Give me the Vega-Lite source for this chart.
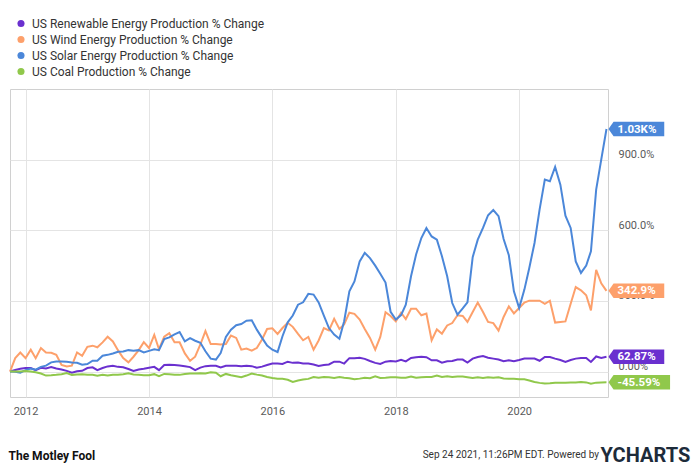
{
  "$schema": "https://vega.github.io/schema/vega-lite/v6.json",
  "width": 598,
  "height": 308,
  "autosize": {"type": "none"},
  "padding": {"left": 10, "top": 89, "right": 92, "bottom": 72},
  "background": "white",
  "title": {
    "text": "Sep 24 2021, 11:26PM EDT.  Powered by",
    "orient": "bottom", "anchor": "end", "frame": "group", "dx": -9, "offset": -15,
    "fontSize": 10, "fontWeight": "normal", "color": "#333", "font": "Roboto"
  },
  "data": {"values": [
    {"date": "2011-10-01", "renewable": 0, "wind": 0, "solar": 0, "coal": 0},
    {"date": "2011-11-01", "renewable": 7, "wind": 57, "solar": -1, "coal": 0},
    {"date": "2011-12-01", "renewable": 12, "wind": 81, "solar": -5, "coal": 0},
    {"date": "2012-01-01", "renewable": 15, "wind": 57, "solar": 6, "coal": 2},
    {"date": "2012-02-01", "renewable": 15, "wind": 93, "solar": 13, "coal": 0},
    {"date": "2012-03-01", "renewable": 6, "wind": 57, "solar": 8, "coal": -3},
    {"date": "2012-04-01", "renewable": 16, "wind": 100, "solar": 20, "coal": -8},
    {"date": "2012-05-01", "renewable": 13, "wind": 81, "solar": 25, "coal": -17},
    {"date": "2012-06-01", "renewable": 19, "wind": 80, "solar": 39, "coal": -16},
    {"date": "2012-07-01", "renewable": 13, "wind": 71, "solar": 43, "coal": -14},
    {"date": "2012-08-01", "renewable": 9, "wind": 28, "solar": 43, "coal": -11},
    {"date": "2012-09-01", "renewable": 3, "wind": 22, "solar": 42, "coal": -6},
    {"date": "2012-10-01", "renewable": -5, "wind": 25, "solar": 39, "coal": -14},
    {"date": "2012-11-01", "renewable": 1, "wind": 81, "solar": 37, "coal": -12},
    {"date": "2012-12-01", "renewable": 3, "wind": 67, "solar": 29, "coal": -11},
    {"date": "2013-01-01", "renewable": 15, "wind": 105, "solar": 32, "coal": -14},
    {"date": "2013-02-01", "renewable": 18, "wind": 110, "solar": 46, "coal": -14},
    {"date": "2013-03-01", "renewable": 6, "wind": 103, "solar": 46, "coal": -18},
    {"date": "2013-04-01", "renewable": 15, "wind": 124, "solar": 67, "coal": -14},
    {"date": "2013-05-01", "renewable": 22, "wind": 148, "solar": 71, "coal": -17},
    {"date": "2013-06-01", "renewable": 25, "wind": 128, "solar": 77, "coal": -14},
    {"date": "2013-07-01", "renewable": 20, "wind": 91, "solar": 84, "coal": -14},
    {"date": "2013-08-01", "renewable": 18, "wind": 57, "solar": 85, "coal": -11},
    {"date": "2013-09-01", "renewable": 11, "wind": 39, "solar": 91, "coal": -7},
    {"date": "2013-10-01", "renewable": 3, "wind": 63, "solar": 88, "coal": -12},
    {"date": "2013-11-01", "renewable": 9, "wind": 91, "solar": 91, "coal": -14},
    {"date": "2013-12-01", "renewable": 12, "wind": 125, "solar": 81, "coal": -16},
    {"date": "2014-01-01", "renewable": 16, "wind": 100, "solar": 88, "coal": -16},
    {"date": "2014-02-01", "renewable": 20, "wind": 156, "solar": 95, "coal": -11},
    {"date": "2014-03-01", "renewable": 6, "wind": 95, "solar": 91, "coal": -20},
    {"date": "2014-04-01", "renewable": 28, "wind": 148, "solar": 138, "coal": -10},
    {"date": "2014-05-01", "renewable": 29, "wind": 163, "solar": 145, "coal": -11},
    {"date": "2014-06-01", "renewable": 28, "wind": 124, "solar": 158, "coal": -14},
    {"date": "2014-07-01", "renewable": 26, "wind": 124, "solar": 168, "coal": -14},
    {"date": "2014-08-01", "renewable": 23, "wind": 77, "solar": 128, "coal": -10},
    {"date": "2014-09-01", "renewable": 19, "wind": 46, "solar": 142, "coal": -8},
    {"date": "2014-10-01", "renewable": 6, "wind": 63, "solar": 131, "coal": -8},
    {"date": "2014-11-01", "renewable": 17, "wind": 115, "solar": 122, "coal": -7},
    {"date": "2014-12-01", "renewable": 23, "wind": 172, "solar": 86, "coal": -8},
    {"date": "2015-01-01", "renewable": 25, "wind": 117, "solar": 55, "coal": -3},
    {"date": "2015-02-01", "renewable": 25, "wind": 117, "solar": 51, "coal": -5},
    {"date": "2015-03-01", "renewable": 18, "wind": 115, "solar": 79, "coal": -20},
    {"date": "2015-04-01", "renewable": 25, "wind": 117, "solar": 147, "coal": -10},
    {"date": "2015-05-01", "renewable": 25, "wind": 153, "solar": 178, "coal": -16},
    {"date": "2015-06-01", "renewable": 25, "wind": 143, "solar": 197, "coal": -20},
    {"date": "2015-07-01", "renewable": 23, "wind": 93, "solar": 202, "coal": -24},
    {"date": "2015-08-01", "renewable": 25, "wind": 98, "solar": 216, "coal": -17},
    {"date": "2015-09-01", "renewable": 23, "wind": 89, "solar": 218, "coal": -8},
    {"date": "2015-10-01", "renewable": 16, "wind": 100, "solar": 178, "coal": -13},
    {"date": "2015-11-01", "renewable": 21, "wind": 136, "solar": 143, "coal": -17},
    {"date": "2015-12-01", "renewable": 28, "wind": 181, "solar": 110, "coal": -23},
    {"date": "2016-01-01", "renewable": 34, "wind": 184, "solar": 93, "coal": -27},
    {"date": "2016-02-01", "renewable": 34, "wind": 160, "solar": 83, "coal": -30},
    {"date": "2016-03-01", "renewable": 32, "wind": 185, "solar": 150, "coal": -31},
    {"date": "2016-04-01", "renewable": 42, "wind": 207, "solar": 209, "coal": -35},
    {"date": "2016-05-01", "renewable": 37, "wind": 190, "solar": 238, "coal": -44},
    {"date": "2016-06-01", "renewable": 38, "wind": 160, "solar": 284, "coal": -38},
    {"date": "2016-07-01", "renewable": 34, "wind": 133, "solar": 294, "coal": -34},
    {"date": "2016-08-01", "renewable": 34, "wind": 147, "solar": 330, "coal": -31},
    {"date": "2016-09-01", "renewable": 30, "wind": 93, "solar": 327, "coal": -23},
    {"date": "2016-10-01", "renewable": 24, "wind": 132, "solar": 294, "coal": -26},
    {"date": "2016-11-01", "renewable": 28, "wind": 185, "solar": 238, "coal": -23},
    {"date": "2016-12-01", "renewable": 30, "wind": 175, "solar": 185, "coal": -24},
    {"date": "2017-01-01", "renewable": 42, "wind": 224, "solar": 157, "coal": -27},
    {"date": "2017-02-01", "renewable": 42, "wind": 181, "solar": 139, "coal": -23},
    {"date": "2017-03-01", "renewable": 34, "wind": 200, "solar": 214, "coal": -26},
    {"date": "2017-04-01", "renewable": 57, "wind": 250, "solar": 341, "coal": -28},
    {"date": "2017-05-01", "renewable": 57, "wind": 245, "solar": 383, "coal": -33},
    {"date": "2017-06-01", "renewable": 59, "wind": 221, "solar": 468, "coal": -30},
    {"date": "2017-07-01", "renewable": 54, "wind": 181, "solar": 504, "coal": -26},
    {"date": "2017-08-01", "renewable": 45, "wind": 143, "solar": 482, "coal": -28},
    {"date": "2017-09-01", "renewable": 37, "wind": 93, "solar": 450, "coal": -20},
    {"date": "2017-10-01", "renewable": 32, "wind": 147, "solar": 415, "coal": -27},
    {"date": "2017-11-01", "renewable": 42, "wind": 252, "solar": 378, "coal": -26},
    {"date": "2017-12-01", "renewable": 45, "wind": 236, "solar": 254, "coal": -24},
    {"date": "2018-01-01", "renewable": 43, "wind": 213, "solar": 221, "coal": -24},
    {"date": "2018-02-01", "renewable": 50, "wind": 250, "solar": 240, "coal": -26},
    {"date": "2018-03-01", "renewable": 43, "wind": 223, "solar": 284, "coal": -26},
    {"date": "2018-04-01", "renewable": 58, "wind": 267, "solar": 405, "coal": -21},
    {"date": "2018-05-01", "renewable": 61, "wind": 267, "solar": 497, "coal": -26},
    {"date": "2018-06-01", "renewable": 63, "wind": 239, "solar": 567, "coal": -24},
    {"date": "2018-07-01", "renewable": 61, "wind": 246, "solar": 610, "coal": -23},
    {"date": "2018-08-01", "renewable": 48, "wind": 133, "solar": 574, "coal": -23},
    {"date": "2018-09-01", "renewable": 48, "wind": 179, "solar": 560, "coal": -17},
    {"date": "2018-10-01", "renewable": 38, "wind": 161, "solar": 490, "coal": -23},
    {"date": "2018-11-01", "renewable": 44, "wind": 196, "solar": 405, "coal": -20},
    {"date": "2018-12-01", "renewable": 45, "wind": 206, "solar": 291, "coal": -23},
    {"date": "2019-01-01", "renewable": 51, "wind": 239, "solar": 242, "coal": -21},
    {"date": "2019-02-01", "renewable": 51, "wind": 236, "solar": 268, "coal": -21},
    {"date": "2019-03-01", "renewable": 38, "wind": 211, "solar": 294, "coal": -24},
    {"date": "2019-04-01", "renewable": 55, "wind": 253, "solar": 486, "coal": -27},
    {"date": "2019-05-01", "renewable": 62, "wind": 293, "solar": 560, "coal": -24},
    {"date": "2019-06-01", "renewable": 66, "wind": 253, "solar": 610, "coal": -27},
    {"date": "2019-07-01", "renewable": 59, "wind": 211, "solar": 664, "coal": -24},
    {"date": "2019-08-01", "renewable": 55, "wind": 206, "solar": 686, "coal": -26},
    {"date": "2019-09-01", "renewable": 51, "wind": 174, "solar": 660, "coal": -24},
    {"date": "2019-10-01", "renewable": 44, "wind": 232, "solar": 563, "coal": -29},
    {"date": "2019-11-01", "renewable": 48, "wind": 277, "solar": 494, "coal": -31},
    {"date": "2019-12-01", "renewable": 44, "wind": 247, "solar": 341, "coal": -31},
    {"date": "2020-01-01", "renewable": 49, "wind": 270, "solar": 270, "coal": -33},
    {"date": "2020-02-01", "renewable": 55, "wind": 293, "solar": 348, "coal": -33},
    {"date": "2020-03-01", "renewable": 55, "wind": 301, "solar": 440, "coal": -38},
    {"date": "2020-04-01", "renewable": 55, "wind": 301, "solar": 546, "coal": -44},
    {"date": "2020-05-01", "renewable": 46, "wind": 301, "solar": 688, "coal": -48},
    {"date": "2020-06-01", "renewable": 62, "wind": 288, "solar": 815, "coal": -51},
    {"date": "2020-07-01", "renewable": 62, "wind": 301, "solar": 808, "coal": -50},
    {"date": "2020-08-01", "renewable": 55, "wind": 208, "solar": 869, "coal": -48},
    {"date": "2020-09-01", "renewable": 49, "wind": 211, "solar": 794, "coal": -47},
    {"date": "2020-10-01", "renewable": 41, "wind": 213, "solar": 662, "coal": -47},
    {"date": "2020-11-01", "renewable": 49, "wind": 288, "solar": 610, "coal": -46},
    {"date": "2020-12-01", "renewable": 55, "wind": 359, "solar": 468, "coal": -46},
    {"date": "2021-01-01", "renewable": 58, "wind": 345, "solar": 419, "coal": -44},
    {"date": "2021-02-01", "renewable": 58, "wind": 324, "solar": 450, "coal": -46},
    {"date": "2021-03-01", "renewable": 41, "wind": 260, "solar": 511, "coal": -52},
    {"date": "2021-04-01", "renewable": 64, "wind": 432, "solar": 773, "coal": -47},
    {"date": "2021-05-01", "renewable": 58, "wind": 375, "solar": 900, "coal": -46},
    {"date": "2021-06-01", "renewable": 62.87, "wind": 342.9, "solar": 1030, "coal": -45.59}
  ]},
  "transform": [
    {"fold": ["renewable", "wind", "solar", "coal"], "as": ["series", "value"]}
  ],
  "encoding": {
    "x": {
      "field": "date", "type": "temporal",
      "scale": {"type": "utc", "domain": [{"year": 2011, "month": 10, "date": 1, "utc": true}, {"year": 2021, "month": 6, "date": 10, "utc": true}]},
      "axis": {
        "values": [
          {"year": 2012, "month": 1, "date": 1, "utc": true},
          {"year": 2014, "month": 1, "date": 1, "utc": true},
          {"year": 2016, "month": 1, "date": 1, "utc": true},
          {"year": 2018, "month": 1, "date": 1, "utc": true},
          {"year": 2020, "month": 1, "date": 1, "utc": true}
        ],
        "format": "%Y", "grid": true, "gridColor": "#e4e4e4", "ticks": false, "domain": false,
        "labelPadding": 8, "labelFontSize": 11, "labelColor": "#5a5a5a", "labelFont": "Roboto",
        "title": "The Motley Fool", "titleAnchor": "start", "titleAlign": "left", "titleBaseline": "middle",
        "titleX": -2, "titleY": 58, "titleFont": "Roboto", "titleFontSize": 12, "titleFontWeight": "bold", "titleColor": "#111"
      }
    },
    "y": {
      "field": "value", "type": "quantitative",
      "scale": {"domain": [-108, 1200], "nice": false, "zero": false},
      "axis": {
        "orient": "right", "values": [0, 300, 600, 900], "grid": true, "gridColor": "#e4e4e4", "ticks": false, "domain": false,
        "labelExpr": "datum.value == 0 ? '0.00%' : format(datum.value, '.1f') + '%'",
        "labelAlign": "left", "labelBaseline": "bottom", "labelPadding": 10,
        "labelFontSize": 11, "labelColor": "#5a5a5a", "labelFont": "Roboto",
        "title": "YCHARTS", "titleAngle": 0, "titleAlign": "left", "titleBaseline": "middle",
        "titleX": -8, "titleY": 366, "titleFont": "Roboto", "titleFontSize": 20, "titleFontWeight": "bold", "titleColor": "#1d2b3a"
      }
    },
    "color": {
      "field": "series", "type": "nominal",
      "scale": {"domain": ["renewable", "wind", "solar", "coal"], "range": ["#6a30cf", "#fda06b", "#4b87d9", "#90c84b"]},
      "legend": {
        "orient": "none", "legendX": 5, "legendY": -71.5, "title": null, "direction": "vertical",
        "symbolType": "circle", "symbolSize": 50, "rowPadding": 4, "labelOffset": 5, "labelLimit": 320,
        "labelFont": "Roboto", "labelFontSize": 12, "labelColor": "#333",
        "labelExpr": "{'renewable': 'US Renewable Energy Production % Change', 'wind': 'US Wind Energy Production % Change', 'solar': 'US Solar Energy Production % Change', 'coal': 'US Coal Production % Change'}[datum.label]",
        "encode": {"symbols": {"update": {
          "fill": {"scale": "color", "field": "value"}, "strokeWidth": {"value": 0}
        }}}
      }
    }
  },
  "layer": [
    {"mark": {"type": "line", "strokeWidth": 2}},
    {
      "transform": [
        {"filter": "utcyear(datum.date) == 2021 && utcmonth(datum.date) == 5"},
        {"filter": "datum.series != 'coal'"}
      ],
      "mark": {"type": "point", "filled": true, "opacity": 1, "size": 210, "xOffset": 2, "strokeWidth": 0,
        "shape": "M0,0 L0.7,-1 L7.7,-1 L7.7,1 L0.7,1 Z"}
    },
    {
      "transform": [
        {"filter": "utcyear(datum.date) == 2021 && utcmonth(datum.date) == 5"},
        {"filter": "datum.series == 'coal'"}
      ],
      "mark": {"type": "point", "filled": true, "opacity": 1, "size": 210, "xOffset": 2, "strokeWidth": 0,
        "shape": "M0,0 L0.7,-1 L8.5,-1 L8.5,1 L0.7,1 Z"}
    },
    {
      "transform": [
        {"filter": "utcyear(datum.date) == 2021 && utcmonth(datum.date) == 5"},
        {"calculate": "datum.value >= 1000 ? format(datum.value / 1000, '.2f') + 'K%' : (datum.value < 0 ? '-' : '') + format(abs(datum.value), '.4~r') + '%'", "as": "label"}
      ],
      "mark": {"type": "text", "align": "left", "baseline": "middle", "dx": 11, "dy": 0.5, "font": "Roboto", "fontSize": 11.5, "fontWeight": "bold"},
      "encoding": {
        "text": {"field": "label"},
        "color": {"value": "white"}
      }
    }
  ],
  "config": {
    "font": "Roboto",
    "view": {"stroke": "#d0d0d0", "strokeWidth": 1}
  }
}
